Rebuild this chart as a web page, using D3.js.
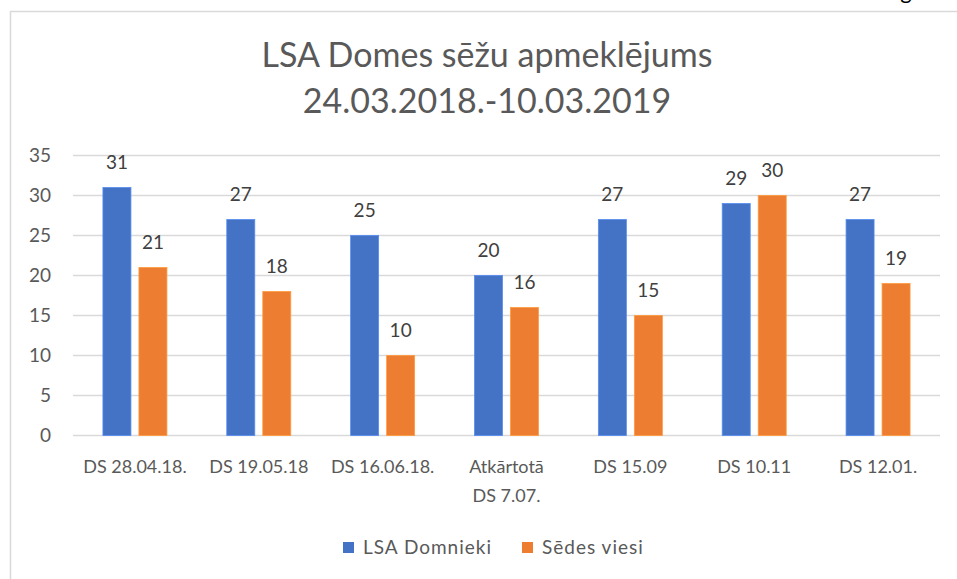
<!DOCTYPE html>
<html>
<head>
<meta charset="utf-8">
<script src="https://cdn.jsdelivr.net/npm/d3@7"></script>
<style>
  html, body { margin: 0; padding: 0; background: #fff; }
  svg { display: block; }
  text { font-family: Lato, "Open Sans", sans-serif; }
</style>
</head>
<body>
<svg id="chart" width="957" height="579"></svg>
<script>
const titleLines = ["LSA Domes sēžu apmeklējums", "24.03.2018.-10.03.2019"];
const categories = ["DS 28.04.18.", "DS 19.05.18", "DS 16.06.18.", "Atkārtotā\nDS 7.07.", "DS 15.09", "DS 10.11", "DS 12.01."];
const seriesNames = ["LSA Domnieki", "Sēdes viesi"];
const domnieki = [31, 27, 25, 20, 27, 29, 27];
const viesi = [21, 18, 10, 16, 15, 30, 19];
const yTicks = [0, 5, 10, 15, 20, 25, 30, 35];
const colors = ["#4472C4", "#ED7D31"];

const svg = d3.select("#chart");
const textColor = "#595959";

// frame
svg.append("path")
  .attr("d", "M10.5,590 V11.5 H970")
  .attr("fill", "none").attr("stroke", "#d9d9d9").attr("stroke-width", 1.5);

// cut-off glyph at top right (partly outside the page, as in the reference)
svg.append("text").attr("x", 906).attr("y", -1).attr("text-anchor", "middle")
  .attr("font-family", "Liberation Sans, Arial, sans-serif")
  .attr("font-size", 22).attr("fill", "#000").text("g");

// title
svg.selectAll("text.title").data(titleLines).enter().append("text")
  .attr("class", "title")
  .attr("x", 487).attr("y", (d, i) => 67 + i * 46)
  .attr("text-anchor", "middle")
  .attr("font-size", 34).attr("fill", textColor)
  .text(d => d);

const x = d3.scaleBand().domain(categories).range([73, 940]);
const y = d3.scaleLinear().domain([0, 35]).range([435.5, 155.5]);

// gridlines
svg.append("g").selectAll("line").data(yTicks).enter().append("line")
  .attr("x1", 73).attr("x2", 940)
  .attr("y1", d => y(d)).attr("y2", d => y(d))
  .attr("stroke", "#d9d9d9").attr("stroke-width", 1.5);

// y axis labels
const yAxis = d3.axisLeft(y).tickValues(yTicks).tickSize(0).tickPadding(0);
const yg = svg.append("g").attr("transform", "translate(51,0)").call(yAxis);
yg.select(".domain").remove();
yg.selectAll("text").attr("font-size", 19).attr("fill", textColor)
  .attr("font-family", "Lato, sans-serif");

// x axis labels
const xAxis = d3.axisBottom(x).tickSize(0).tickPadding(0);
const xg = svg.append("g").attr("transform", "translate(0,458)").call(xAxis);
xg.select(".domain").remove();
xg.selectAll(".tick text").each(function(d) {
  const t = d3.select(this);
  t.text(null).attr("dy", null).attr("y", 0)
    .attr("font-size", 18).attr("fill", textColor).attr("font-family", "Lato, sans-serif");
  d.split("\n").forEach((line, i) => {
    t.append("tspan").attr("x", 0).attr("y", 15 + i * 29).text(line);
  });
});

// bars
const barW = 28, gap = 8;
const series = [domnieki, viesi];
const offsets = [-gap / 2 - barW, gap / 2];
series.forEach((vals, s) => {
  const g = svg.append("g");
  g.selectAll("rect").data(vals).enter().append("rect")
    .attr("x", (d, i) => x(categories[i]) + x.bandwidth() / 2 + offsets[s])
    .attr("y", d => y(d))
    .attr("width", barW)
    .attr("height", d => y(0) - y(d))
    .attr("fill", colors[s])
    .attr("stroke", d3.color(colors[s]).brighter(0.6))
    .attr("stroke-width", 0.8);
  g.selectAll("text").data(vals).enter().append("text")
    .attr("x", (d, i) => x(categories[i]) + x.bandwidth() / 2 + offsets[s] + barW / 2)
    .attr("y", d => y(d) - 19)
    .attr("text-anchor", "middle")
    .attr("font-size", 19).attr("fill", "#404040")
    .text(d => d);
});

// legend
const legendItems = [{name: seriesNames[0], x: 343, c: colors[0]}, {name: seriesNames[1], x: 522, c: colors[1]}];
const lg = svg.append("g");
legendItems.forEach(it => {
  lg.append("rect").attr("x", it.x).attr("y", 542).attr("width", 11).attr("height", 11).attr("fill", it.c);
  lg.append("text").attr("x", it.x + 20).attr("y", 554)
    .attr("font-size", 19).attr("letter-spacing", 1).attr("fill", textColor).text(it.name);
});
</script>
</body>
</html>
